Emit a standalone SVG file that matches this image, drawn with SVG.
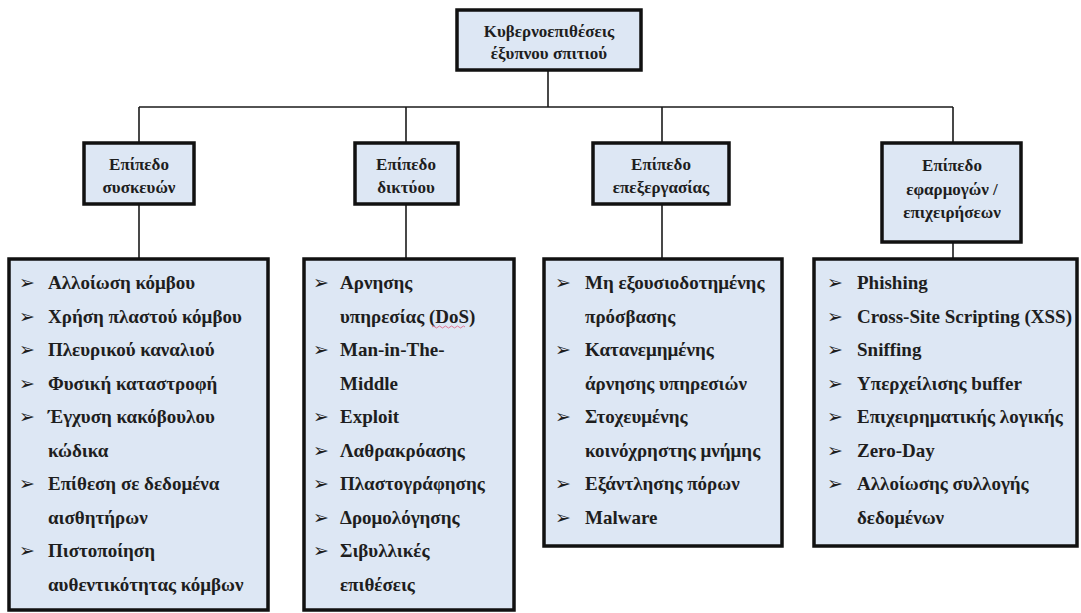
<svg xmlns="http://www.w3.org/2000/svg" width="1081" height="613" viewBox="0 0 1081 613">
  <defs>
    <style>
      .box { fill: #dde7f4; stroke: #111; stroke-width: 3.5; }
      .wire { fill: none; stroke: #1a1a1a; stroke-width: 1.6; }
      .hd { font-family: 'Liberation Serif', 'DejaVu Serif', serif; font-weight: 700; font-size: 17px; fill: #1e1e1e; text-anchor: middle; }
      .it { font-family: 'Liberation Serif', 'DejaVu Serif', serif; font-weight: 700; font-size: 19px; fill: #1e1e1e; }
      .bl { font-family: 'DejaVu Sans', sans-serif; font-size: 19px; fill: #1e1e1e; }
    </style>
  </defs>
  <rect width="1081" height="613" fill="#ffffff"/>

  <!-- connectors -->
  <g id="connectors" class="wire">
    <line x1="548" y1="70" x2="548" y2="107"/>
    <line x1="139" y1="107" x2="953" y2="107"/>
    <line x1="139" y1="107" x2="139" y2="143"/>
    <line x1="406" y1="107" x2="406" y2="143"/>
    <line x1="662" y1="107" x2="662" y2="143"/>
    <line x1="953" y1="107" x2="953" y2="143"/>
    <line x1="139" y1="204" x2="139" y2="259"/>
    <line x1="406" y1="204" x2="406" y2="259"/>
    <line x1="662" y1="204" x2="662" y2="259"/>
    <line x1="953" y1="242" x2="953" y2="259"/>
  </g>

  <!-- root -->
  <g id="root">
    <rect class="box" x="457" y="10" width="184" height="60"/>
    <text class="hd" x="549" y="37">Κυβερνοεπιθέσεις</text>
    <text class="hd" x="549" y="59">έξυπνου σπιτιού</text>
  </g>

  <!-- layer headers -->
  <g id="layer-devices">
    <rect class="box" x="84" y="143" width="110" height="61"/>
    <text class="hd" x="139" y="170">Επίπεδο</text>
    <text class="hd" x="139" y="193">συσκευών</text>
  </g>
  <g id="layer-network">
    <rect class="box" x="355" y="143" width="103" height="61"/>
    <text class="hd" x="406" y="170">Επίπεδο</text>
    <text class="hd" x="406" y="193">δικτύου</text>
  </g>
  <g id="layer-processing">
    <rect class="box" x="593" y="143" width="136" height="61"/>
    <text class="hd" x="661" y="170">Επίπεδο</text>
    <text class="hd" x="661" y="193">επεξεργασίας</text>
  </g>
  <g id="layer-apps">
    <rect class="box" x="882" y="143" width="139" height="99"/>
    <text class="hd" x="952" y="171">Επίπεδο</text>
    <text class="hd" x="952" y="195">εφαρμογών /</text>
    <text class="hd" x="952" y="218">επιχειρήσεων</text>
  </g>

  <!-- attack lists -->
  <g id="list-devices">
    <rect class="box" x="9" y="259" width="259" height="351"/>
    <text class="bl" x="19" y="289">➢</text><text class="it" x="48" y="289">Αλλοίωση κόμβου</text>
    <text class="bl" x="19" y="322.5">➢</text><text class="it" x="48" y="322.5">Χρήση πλαστού κόμβου</text>
    <text class="bl" x="19" y="356">➢</text><text class="it" x="48" y="356">Πλευρικού καναλιού</text>
    <text class="bl" x="19" y="389.5">➢</text><text class="it" x="48" y="389.5">Φυσική καταστροφή</text>
    <text class="bl" x="19" y="423">➢</text><text class="it" x="48" y="423">Έγχυση κακόβουλου</text>
    <text class="it" x="48" y="456.5">κώδικα</text>
    <text class="bl" x="19" y="490">➢</text><text class="it" x="48" y="490">Επίθεση σε δεδομένα</text>
    <text class="it" x="48" y="523.5">αισθητήρων</text>
    <text class="bl" x="19" y="557">➢</text><text class="it" x="48" y="557">Πιστοποίηση</text>
    <text class="it" x="48" y="590.5">αυθεντικότητας κόμβων</text>
  </g>
  <g id="list-network">
    <rect class="box" x="304" y="259" width="210" height="351"/>
    <text class="bl" x="313" y="289">➢</text><text class="it" x="340" y="289">Αρνησης</text>
    <text class="it" x="340" y="322.5">υπηρεσίας (DoS)</text>
    <path d="M432 327 q1.5 -2 3 0 t3 0 t3 0 t3 0 t3 0 t3 0 t3 0 t3 0 t3 0 t3 0 t3 0" fill="none" stroke="#e06a8a" stroke-width="0.9"/>
    <text class="bl" x="313" y="356">➢</text><text class="it" x="340" y="356">Man-in-The-</text>
    <text class="it" x="340" y="389.5">Middle</text>
    <text class="bl" x="313" y="423">➢</text><text class="it" x="340" y="423">Exploit</text>
    <text class="bl" x="313" y="456.5">➢</text><text class="it" x="340" y="456.5">Λαθρακρόασης</text>
    <text class="bl" x="313" y="490">➢</text><text class="it" x="340" y="490">Πλαστογράφησης</text>
    <text class="bl" x="313" y="523.5">➢</text><text class="it" x="340" y="523.5">Δρομολόγησης</text>
    <text class="bl" x="313" y="557">➢</text><text class="it" x="340" y="557">Σιβυλλικές</text>
    <text class="it" x="340" y="590.5">επιθέσεις</text>
  </g>
  <g id="list-processing">
    <rect class="box" x="544" y="259" width="238" height="287"/>
    <text class="bl" x="555" y="289">➢</text><text class="it" x="585" y="289">Μη εξουσιοδοτημένης</text>
    <text class="it" x="585" y="322.5">πρόσβασης</text>
    <text class="bl" x="555" y="356">➢</text><text class="it" x="585" y="356">Κατανεμημένης</text>
    <text class="it" x="585" y="389.5">άρνησης υπηρεσιών</text>
    <text class="bl" x="555" y="423">➢</text><text class="it" x="585" y="423">Στοχευμένης</text>
    <text class="it" x="585" y="456.5">κοινόχρηστης μνήμης</text>
    <text class="bl" x="555" y="490">➢</text><text class="it" x="585" y="490">Εξάντλησης πόρων</text>
    <text class="bl" x="555" y="523.5">➢</text><text class="it" x="585" y="523.5">Malware</text>
  </g>
  <g id="list-apps">
    <rect class="box" x="814" y="259" width="263" height="287"/>
    <text class="bl" x="827" y="289">➢</text><text class="it" x="857" y="289">Phishing</text>
    <text class="bl" x="827" y="322.5">➢</text><text class="it" x="857" y="322.5">Cross-Site Scripting (XSS)</text>
    <text class="bl" x="827" y="356">➢</text><text class="it" x="857" y="356">Sniffing</text>
    <text class="bl" x="827" y="389.5">➢</text><text class="it" x="857" y="389.5">Υπερχείλισης buffer</text>
    <text class="bl" x="827" y="423">➢</text><text class="it" x="857" y="423">Επιχειρηματικής λογικής</text>
    <text class="bl" x="827" y="456.5">➢</text><text class="it" x="857" y="456.5">Zero-Day</text>
    <text class="bl" x="827" y="490">➢</text><text class="it" x="857" y="490">Αλλοίωσης συλλογής</text>
    <text class="it" x="857" y="523.5">δεδομένων</text>
  </g>
</svg>
